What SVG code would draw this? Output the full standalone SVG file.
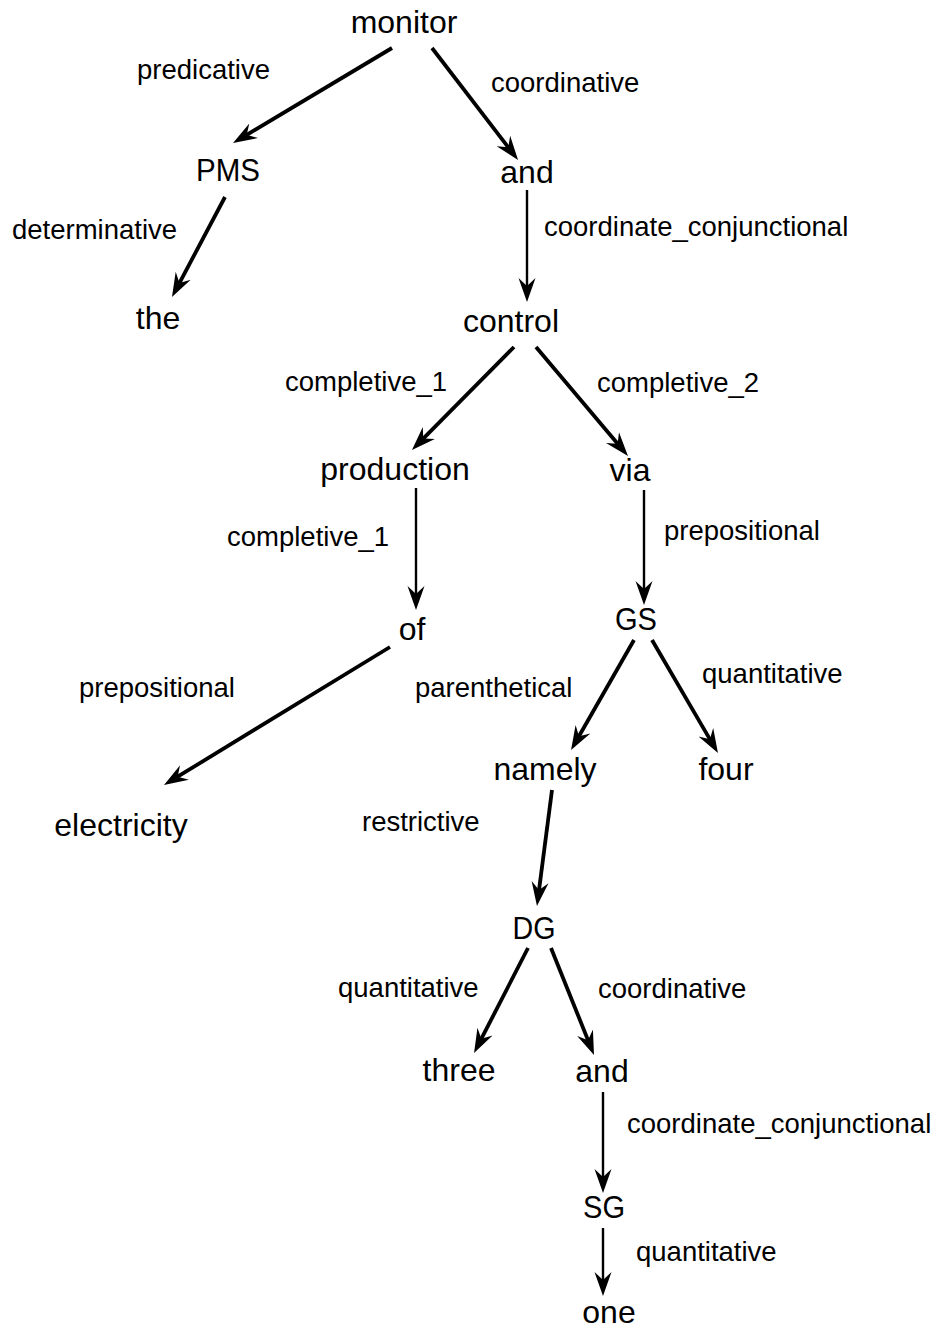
<svg xmlns="http://www.w3.org/2000/svg" width="938" height="1331" viewBox="0 0 938 1331">
<style>
.node{font-family:"Liberation Sans",Arial,sans-serif;font-size:32px;fill:#000;text-anchor:middle}
.lbl{font-family:"Liberation Sans",Arial,sans-serif;font-size:27.5px;fill:#000}
.e{stroke:#000;stroke-width:3.8;fill:none;marker-end:url(#ah)}
.v{stroke:#000;stroke-width:2.4;fill:none;marker-end:url(#ah)}
</style>
<defs>
<marker id="ah" markerUnits="userSpaceOnUse" viewBox="0 0 24 20" markerWidth="24" markerHeight="20" refX="9" refY="10" orient="auto">
<path d="M24,10 L0,1.5 L8,10 L0,18.5 Z" fill="#000"/>
</marker>
</defs>
<rect width="938" height="1331" fill="#fff"/>
<g id="connectors">
<line class="e" x1="392" y1="48" x2="245.9" y2="135.3"/>
<line class="e" x1="432" y1="48" x2="508.9" y2="148.1"/>
<line class="v" x1="527" y1="190" x2="527" y2="287"/>
<line class="e" x1="225" y1="197" x2="179" y2="283.8"/>
<line class="e" x1="514" y1="347" x2="422.5" y2="439.3"/>
<line class="e" x1="536" y1="347" x2="618.3" y2="444.5"/>
<line class="v" x1="416" y1="488" x2="416" y2="595"/>
<line class="v" x1="644" y1="490" x2="644" y2="590"/>
<line class="e" x1="390" y1="647" x2="176.8" y2="777.2"/>
<line class="e" x1="634" y1="640" x2="578.5" y2="737"/>
<line class="e" x1="652" y1="640" x2="710.4" y2="740.1"/>
<line class="e" x1="552" y1="790" x2="538.9" y2="891.1"/>
<line class="e" x1="528" y1="948" x2="480.9" y2="1039.7"/>
<line class="e" x1="551" y1="948" x2="588.4" y2="1041.1"/>
<line class="v" x1="603" y1="1092" x2="603" y2="1178"/>
<line class="v" x1="603" y1="1228" x2="603" y2="1281"/>
</g>
<g id="labels">
<text class="lbl" x="137" y="79">predicative</text>
<text class="lbl" x="491" y="92">coordinative</text>
<text class="lbl" x="12" y="239">determinative</text>
<text class="lbl" x="544" y="236">coordinate_conjunctional</text>
<text class="lbl" x="285" y="391">completive_1</text>
<text class="lbl" x="597" y="392">completive_2</text>
<text class="lbl" x="227" y="546">completive_1</text>
<text class="lbl" x="664" y="540">prepositional</text>
<text class="lbl" x="79" y="697">prepositional</text>
<text class="lbl" x="415" y="697">parenthetical</text>
<text class="lbl" x="702" y="683">quantitative</text>
<text class="lbl" x="362" y="831">restrictive</text>
<text class="lbl" x="338" y="997">quantitative</text>
<text class="lbl" x="598" y="998">coordinative</text>
<text class="lbl" x="627" y="1133">coordinate_conjunctional</text>
<text class="lbl" x="636" y="1261">quantitative</text>
</g>
<g id="n-monitor"><text class="node" x="404" y="33">monitor</text></g>
<g id="n-PMS"><text class="node" x="228" y="181" textLength="64" lengthAdjust="spacingAndGlyphs">PMS</text></g>
<g id="n-and1"><text class="node" x="527" y="183">and</text></g>
<g id="n-the"><text class="node" x="158" y="329">the</text></g>
<g id="n-control"><text class="node" x="511" y="332">control</text></g>
<g id="n-production"><text class="node" x="395" y="480">production</text></g>
<g id="n-via"><text class="node" x="630" y="481">via</text></g>
<g id="n-of"><text class="node" x="412" y="640">of</text></g>
<g id="n-GS"><text class="node" x="636" y="630" textLength="42" lengthAdjust="spacingAndGlyphs">GS</text></g>
<g id="n-namely"><text class="node" x="545" y="780">namely</text></g>
<g id="n-four"><text class="node" x="726" y="780">four</text></g>
<g id="n-electricity"><text class="node" x="121" y="836">electricity</text></g>
<g id="n-DG"><text class="node" x="534" y="939" textLength="43" lengthAdjust="spacingAndGlyphs">DG</text></g>
<g id="n-three"><text class="node" x="459" y="1081">three</text></g>
<g id="n-and2"><text class="node" x="602" y="1082">and</text></g>
<g id="n-SG"><text class="node" x="604" y="1218" textLength="42" lengthAdjust="spacingAndGlyphs">SG</text></g>
<g id="n-one"><text class="node" x="609" y="1323">one</text></g>
</svg>
